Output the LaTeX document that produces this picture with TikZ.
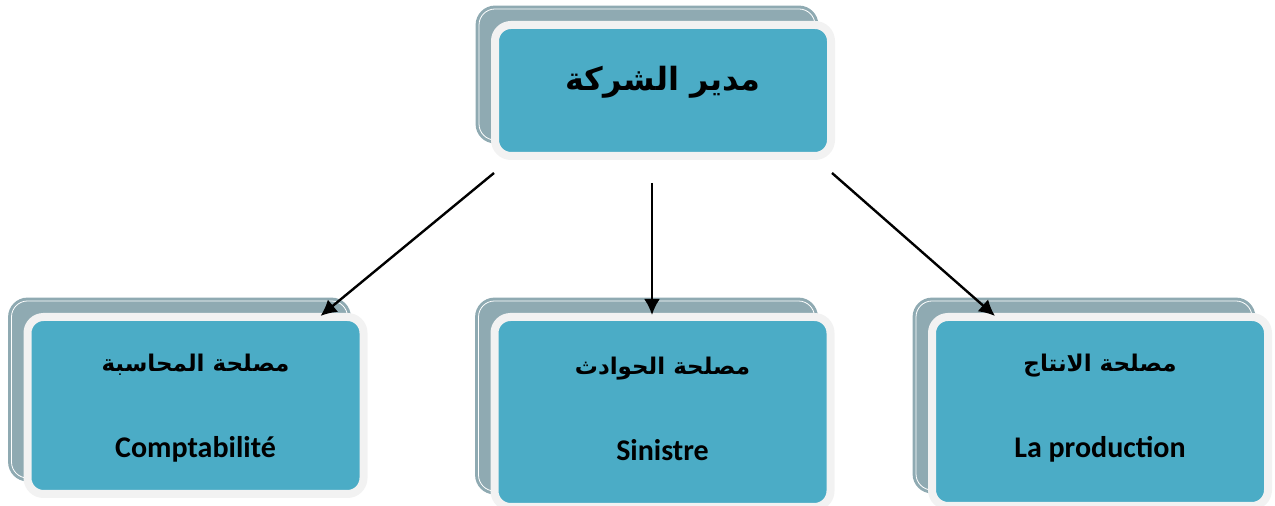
\documentclass[tikz,border=0pt]{standalone}
\usepackage{fontspec}
\setmainfont{Carlito}
\newfontfamily\arabicfont[Script=Arabic]{DejaVu Sans}
\TeXXeTstate=1
\usepackage{tikz}
\usetikzlibrary{arrows.meta,shadows}
\definecolor{tealc}{RGB}{75,172,198}
\definecolor{ombrec}{RGB}{143,170,178}
\definecolor{bordc}{RGB}{242,242,242}
\tikzset{
  boite/.style={draw=bordc, line width=4pt, fill=tealc, rounded corners=8pt, inner sep=0pt, minimum width=168pt,
    general shadow={fill=ombrec, draw=ombrec, line width=1.5pt, double=white, double distance=0.4pt, shadow xshift=-8pt, shadow yshift=8pt}},
  texte/.style={align=center, inner sep=0pt, font=\bfseries\fontsize{15}{43}\selectfont},
  fleche/.style={-{Latex[length=8pt,width=8pt]}, line width=1.2pt}
}

\begin{document}
\begin{tikzpicture}[x=0.5pt,y=-0.5pt]
\useasboundingbox (0,0) rectangle (1275,506);
\node [boite, minimum height=65.5pt, label={[name=dir-t, inner sep=0pt, yshift=4pt]center:{\arabicfont\bfseries\fontsize{16}{20}\selectfont\beginR مدير الشركة\endR}}] (dir) at (663,90.5) {};
\node [boite, minimum height=88.5pt, label={[name=compta-t, texte, yshift=-1.5pt]center:{{\arabicfont\bfseries\fontsize{11.5}{43}\selectfont\beginR مصلحة المحاسبة\endR}\\Comptabilité}}] (compta) at (195.5,405.5) {};
\node [boite, minimum height=95pt, label={[name=sinistre-t, texte, yshift=1.75pt]center:{{\arabicfont\bfseries\fontsize{11.5}{43}\selectfont\beginR مصلحة الحوادث\endR}\\Sinistre}}] (sinistre) at (662.5,412) {};
\node [boite, minimum height=94.5pt, label={[name=prod-t, texte, yshift=1.5pt]center:{{\arabicfont\bfseries\fontsize{11.5}{43}\selectfont\beginR مصلحة الانتاج\endR}\\La production}}] (prod) at (1100,411.5) {};
% fleches du directeur vers les services
\draw [fleche] ([xshift=1.5pt,yshift=-6.5pt]dir.south west) -- ([xshift=-23.5pt,yshift=-1.5pt]compta.north east);
\draw [fleche] ([xshift=-5.5pt,yshift=-11.5pt]dir.south) -- ([xshift=-5.25pt,yshift=-1pt]sinistre.north);
\draw [fleche] ([xshift=-1.5pt,yshift=-6.5pt]dir.south east) -- ([xshift=33.5pt,yshift=-1.5pt]prod.north west);
\end{tikzpicture}
\end{document}
